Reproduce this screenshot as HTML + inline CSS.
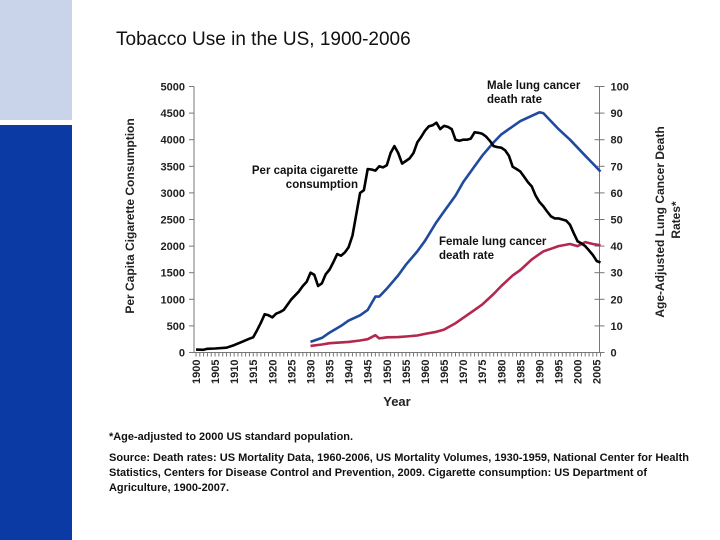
<!DOCTYPE html>
<html><head><meta charset="utf-8"><style>
body{margin:0;width:720px;height:540px;overflow:hidden;background:#fff;font-family:"Liberation Sans",sans-serif}
svg{display:block}
text{font-family:"Liberation Sans",sans-serif}
</style></head><body>
<svg id="chart" width="720" height="540" viewBox="0 0 720 540">
<rect x="0" y="0" width="72" height="120" fill="#c9d3ea"/>
<rect x="0" y="125" width="72" height="415" fill="#0b3aa5"/>
<text x="116" y="45" font-size="19" fill="#111">Tobacco Use in the US, 1900-2006</text>
<g id="axes"></g>
<g id="series"></g>
<text transform="translate(134,216) rotate(-90)" text-anchor="middle" font-size="12" font-weight="bold" fill="#222">Per Capita Cigarette Consumption</text>
<text transform="translate(664,222) rotate(-90)" text-anchor="middle" font-size="12" font-weight="bold" fill="#222">Age-Adjusted Lung Cancer Death</text>
<text transform="translate(680,220) rotate(-90)" text-anchor="middle" font-size="12" font-weight="bold" fill="#222">Rates*</text>
<text x="397" y="406" text-anchor="middle" font-size="13" font-weight="bold" fill="#222">Year</text>
<text x="358" y="174" text-anchor="end" font-size="11.5" font-weight="bold" fill="#111"><tspan x="358">Per capita cigarette</tspan><tspan x="358" dy="14">consumption</tspan></text>
<text x="487" y="89" font-size="11.5" font-weight="bold" fill="#111"><tspan x="487">Male lung cancer</tspan><tspan x="487" dy="14">death rate</tspan></text>
<text x="439" y="245" font-size="11.5" font-weight="bold" fill="#111"><tspan x="439">Female lung cancer</tspan><tspan x="439" dy="14">death rate</tspan></text>
<text x="109" y="440" font-size="11" font-weight="bold" fill="#111" textLength="244" lengthAdjust="spacingAndGlyphs">*Age-adjusted to 2000 US standard population.</text>
<text x="109" y="461" font-size="11" font-weight="bold" fill="#111" textLength="580" lengthAdjust="spacingAndGlyphs">Source: Death rates: US Mortality Data, 1960-2006, US Mortality Volumes, 1930-1959, National Center for Health</text>
<text x="109" y="476" font-size="11" font-weight="bold" fill="#111" textLength="538" lengthAdjust="spacingAndGlyphs">Statistics, Centers for Disease Control and Prevention, 2009. Cigarette consumption: US Department of</text>
<text x="109" y="491" font-size="11" font-weight="bold" fill="#111" textLength="120" lengthAdjust="spacingAndGlyphs">Agriculture, 1900-2007.</text>
</svg>
<script>
const cigYears=[1900,1902,1903,1905,1908,1910,1912,1914,1915,1916,1917,1918,1919,1920,1921,1922,1923,1925,1927,1928,1929,1930,1931,1932,1933,1934,1935,1936,1937,1938,1939,1940,1941,1942,1943,1944,1945,1946,1947,1948,1949,1950,1951,1952,1953,1954,1955,1956,1957,1958,1959,1960,1961,1962,1963,1964,1965,1966,1967,1968,1969,1970,1971,1972,1973,1974,1975,1976,1977,1978,1979,1980,1981,1982,1983,1984,1985,1986,1987,1988,1989,1990,1991,1992,1993,1994,1995,1996,1997,1998,1999,2000,2001,2002,2003,2004,2005,2006];
const cigValues=[54,50,70,75,90,140,200,260,285,420,560,720,700,660,730,760,800,1000,1150,1250,1330,1500,1460,1250,1300,1470,1560,1700,1850,1820,1880,1980,2200,2600,3000,3050,3450,3440,3420,3500,3480,3520,3750,3880,3750,3550,3600,3650,3750,3950,4050,4170,4250,4270,4320,4200,4260,4240,4200,4000,3980,4000,4000,4020,4140,4130,4110,4060,3980,3880,3860,3850,3800,3700,3490,3450,3400,3300,3200,3120,2950,2830,2750,2650,2560,2520,2520,2500,2480,2400,2240,2090,2050,2000,1920,1830,1720,1690];
const rateYears=[1930,1933,1935,1938,1940,1943,1945,1947,1948,1950,1953,1955,1958,1960,1963,1965,1968,1970,1973,1975,1978,1980,1983,1985,1988,1990,1991,1993,1995,1998,2000,2002,2004,2006];
const maleValues=[4,5.5,7.5,10,12,14,16,21,21,24,29,33,38,42,49,53,59,64,70,74,79,82,85,87,89,90.3,90,87,84,80,77,74,71,68];
const femaleValues=[2.5,3,3.5,3.8,4,4.5,5,6.5,5.3,5.7,5.8,6,6.4,7,7.8,8.6,11,13,16,18,22,25,29,31,35,37,38,39,40,40.8,40,41.5,40.8,40.3];
const leftTicks=[0,500,1000,1500,2000,2500,3000,3500,4000,4500,5000];
const rightTicks=[0,10,20,30,40,50,60,70,80,90,100];
const yearTicks=[1900,1905,1910,1915,1920,1925,1930,1935,1940,1945,1950,1955,1960,1965,1970,1975,1980,1985,1990,1995,2000,2005];

const NS='http://www.w3.org/2000/svg';
const X0=196,XPER=3.816,Y0=352.5,YTOP=86.5,LAX=194,RAX=599.5;
const xs=y=>X0+(y-1900)*XPER;
const yl=v=>Y0-v/5000*(Y0-YTOP);
const yr=v=>Y0-v/100*(Y0-YTOP);
function mk(tag,attrs,parent){const e=document.createElementNS(NS,tag);for(const k in attrs)e.setAttribute(k,attrs[k]);parent.appendChild(e);return e;}
const axes=document.getElementById('axes'),series=document.getElementById('series');
let e;
e=mk('line',{x1:LAX,y1:YTOP,x2:LAX,y2:Y0,stroke:'#777','stroke-width':1},axes);


e=mk('line',{x1:RAX,y1:YTOP,x2:RAX,y2:Y0,stroke:'#777','stroke-width':1},axes);


e=mk('line',{x1:LAX,y1:Y0,x2:RAX,y2:Y0,stroke:'#777','stroke-width':1},axes);


leftTicks.forEach(v=>{
  const y=yl(v);
  e=mk('line',{x1:LAX-5,y1:y,x2:LAX,y2:y,stroke:'#777'},axes);
  
  
  e=mk('text',{x:LAX-9,y:y+4,'text-anchor':'end','font-size':11,'font-weight':'bold',fill:'#222'},axes);e.textContent=v;
  
  
});
rightTicks.forEach(v=>{
  const y=yr(v);
  e=mk('line',{x1:RAX-5,y1:y,x2:RAX+5,y2:y,stroke:'#777'},axes);
  
  
  e=mk('text',{x:RAX+11,y:y+4,'font-size':11,'font-weight':'bold',fill:'#222'},axes);e.textContent=v;
  
  
});
for(let yr2=1900;yr2<=2006;yr2++){
  e=mk('line',{x1:xs(yr2),y1:Y0,x2:xs(yr2),y2:Y0+4,stroke:'#777'},axes);
  
  
}
yearTicks.forEach(v=>{
  const x=xs(v);
  e=mk('text',{transform:`translate(${x+4},${Y0+7}) rotate(-90)`,'text-anchor':'end','font-size':11,'font-weight':'bold',fill:'#222'},axes);e.textContent=v;
  
  
});
function line(xsArr,ys,fy,color,name){
  const d=xsArr.map((x,i)=>(i?'L':'M')+xs(x).toFixed(1)+' '+fy(ys[i]).toFixed(1)).join(' ');
  const p=mk('path',{d:d,fill:'none',stroke:color,'stroke-width':2.6,'stroke-linejoin':'round'},series);
  
  
}
line(rateYears,femaleValues,yr,'#b3284f','female-rate-line');
line(rateYears,maleValues,yr,'#1f4aa0','male-rate-line');
line(cigYears,cigValues,yl,'#000','cigarette-consumption-line');
</script>
</body></html>
